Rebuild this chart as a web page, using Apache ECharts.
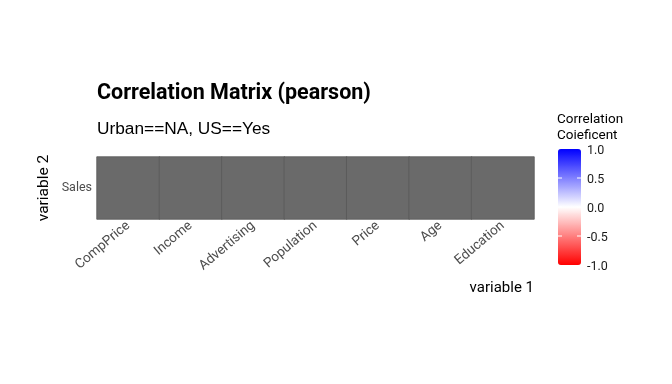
<!DOCTYPE html>
<html><head><meta charset="utf-8">
<script src="https://cdn.jsdelivr.net/npm/echarts@6/dist/echarts.min.js"></script>
<style>html,body{margin:0;padding:0;background:#fff}#c{width:672px;height:384px}</style>
</head><body><div id="c"></div>
<script>
var variable1 = ['CompPrice','Income','Advertising','Population','Price','Age','Education'];
var variable2 = ['Sales'];
// correlation coefficients (all NA in the reference)
var corrSales = [null, null, null, null, null, null, null];
var legendTicks = [1.0, 0.5, 0.0, -0.5, -1.0];

var corrData = [], naData = [];
corrSales.forEach(function(v, i){
  if (v === null) naData.push([i, 0, 0]);
  else corrData.push([i, 0, v]);
});

var vmLeft = 558, vmTop = 149, vmW = 23, vmH = 116;
var graphics = [];
legendTicks.forEach(function(t){
  var y = vmTop + (1 - (t + 1) / 2) * vmH;
  graphics.push({type:'text', left: vmLeft + vmW + 6, top: y - 5,
    style:{text: t.toFixed(1), fill:'#1a1a1a', font:'12.5px Roboto'}});
  if (t > -1 && t < 1) {
    graphics.push({type:'line', shape:{x1:vmLeft, y1:y, x2:vmLeft+4, y2:y}, style:{stroke:'#fff', lineWidth:1}, z:100});
    graphics.push({type:'line', shape:{x1:vmLeft+vmW-4, y1:y, x2:vmLeft+vmW, y2:y}, style:{stroke:'#fff', lineWidth:1}, z:100});
  }
});
graphics.push({type:'text', left: 557, top: 111,
  style:{text:'Correlation\nCoieficent', fill:'#000', font:'13.5px Roboto', lineHeight:16.5}});

var chart = echarts.init(document.getElementById('c'), null, {renderer:'canvas'});
chart.setOption({
  backgroundColor:'#fff',
  animation:false,
  title:{
    text:'Correlation Matrix (pearson)',
    subtext:'Urban==NA, US==Yes',
    left: 92, top: 78,
    itemGap: 16,
    textStyle:{fontFamily:'Roboto', fontWeight:'bold', fontSize:21.5, color:'#000'},
    subtextStyle:{fontFamily:'Liberation Sans', fontSize:17.3, color:'#000'}
  },
  grid:{left:97, right:138, top:157, bottom:165},
  xAxis:{
    type:'category', data: variable1,
    name:'variable 1', nameLocation:'end', nameGap:0, nameMoveOverlap:false,
    nameTextStyle:{fontFamily:'Roboto', fontSize:15, color:'#000', align:'right', verticalAlign:'top', padding:[62,0,0,0]},
    axisLine:{show:false}, axisTick:{show:false}, splitLine:{show:false},
    axisLabel:{rotate:40, color:'#4d4d4d', fontFamily:'Roboto', fontSize:13.5, margin:5, interval:0}
  },
  yAxis:{
    type:'category', data: variable2,
    name:'variable 2', nameLocation:'middle', nameGap:45, nameRotate:90, nameMoveOverlap:false,
    nameTextStyle:{fontFamily:'Roboto', fontSize:15.5, color:'#000'},
    axisLine:{show:false}, axisTick:{show:false}, splitLine:{show:false},
    axisLabel:{color:'#4d4d4d', fontFamily:'Roboto', fontSize:12.5, margin:5}
  },
  visualMap:{
    type:'continuous', min:-1, max:1, seriesIndex:0,
    left:vmLeft, top:vmTop, itemWidth:vmW, itemHeight:vmH, padding:0,
    calculable:false, text:null, showLabel:false,
    inRange:{color:['#FF0000','#FFFFFF','#0000FF']}
  },
  graphic: graphics,
  series:[
    {type:'heatmap', data: corrData, itemStyle:{borderColor:'#555', borderWidth:0.6}},
    {type:'heatmap', data: naData, itemStyle:{color:'#6a6a6a', borderColor:'#595959', borderWidth:0.8}}
  ]
});
</script></body></html>
